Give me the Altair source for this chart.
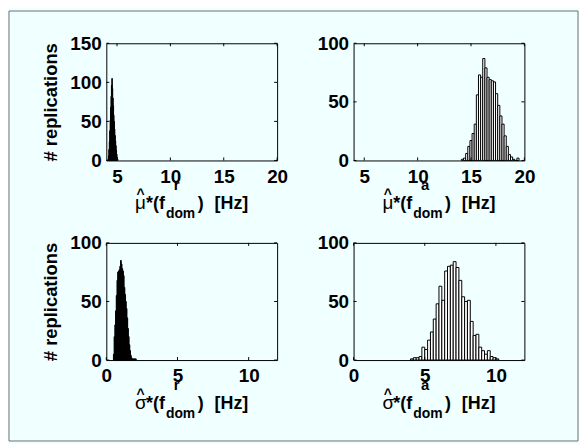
import altair as alt
import pandas as pd

# ---------------- data ----------------
# top-left: mu*(f^r_dom)
mu_r_centers = [4.18, 4.22, 4.26, 4.30, 4.34, 4.38, 4.42, 4.46, 4.50, 4.54, 4.58, 4.62,
                4.66, 4.70, 4.74, 4.78, 4.82, 4.86, 4.90, 4.94, 4.98, 5.02, 5.06]
mu_r_counts = [2, 6, 14, 24, 38, 52, 68, 82, 96, 105, 92, 80,
               70, 58, 50, 40, 32, 25, 19, 13, 8, 4, 2]
mu_r_binw = 0.04

# top-right: mu*(f^a_dom)
mu_a_centers = [14.2, 14.4, 14.6, 14.8, 15.0, 15.2, 15.4, 15.6, 15.8, 16.0, 16.2, 16.4, 16.6, 16.8,
                17.0, 17.2, 17.4, 17.6, 17.8, 18.0, 18.2, 18.4, 18.6, 18.8, 19.0, 19.2, 19.4]
mu_a_counts = [1, 2, 6, 12, 17, 23, 31, 56, 73, 71, 87, 79, 71, 69,
               68, 67, 57, 47, 38, 31, 21, 12, 5, 3, 1, 0, 2]
mu_a_binw = 0.2

# bottom-left: sigma*(f^r_dom)
sig_r_centers = [0.525, 0.575, 0.625, 0.675, 0.725, 0.775, 0.825, 0.875, 0.925, 0.975, 1.025,
                 1.075, 1.125, 1.175, 1.225, 1.275, 1.325, 1.375, 1.425, 1.475, 1.525, 1.575,
                 1.625, 1.675, 1.725, 1.775, 1.825, 1.875, 1.925, 1.975, 2.025, 2.075]
sig_r_counts = [5, 20, 30, 42, 55, 68, 75, 76, 77, 80, 85,
                82, 78, 76, 72, 62, 56, 50, 44, 36, 27, 20,
                13, 8, 4, 2, 1, 1, 1, 1, 1, 1]
sig_r_binw = 0.05

# bottom-right: sigma*(f^a_dom)
sig_a_centers = [4.1, 4.3, 4.5, 4.7, 4.9, 5.1, 5.3, 5.5, 5.7, 5.9, 6.1, 6.3, 6.5, 6.7, 6.9, 7.1,
                 7.3, 7.5, 7.7, 7.9, 8.1, 8.3, 8.5, 8.7, 8.9, 9.1, 9.3, 9.5, 9.7, 9.9, 10.1]
sig_a_counts = [1, 2, 2, 3, 11, 9, 17, 24, 35, 48, 63, 51, 76, 80, 81, 84,
                79, 68, 54, 50, 51, 33, 21, 22, 11, 8, 5, 8, 3, 2, 1]
sig_a_binw = 0.2

x_ticks_top = [5, 10, 15, 20]
x_ticks_bottom = [0, 5, 10]
y_ticks_150 = [0, 50, 100, 150]
y_ticks_100 = [0, 50, 100]
y_title = "# replications"

# ---------------- styling ----------------
FONT = "Liberation Sans"
W, H = 172, 118
TICK = 3
one = pd.DataFrame({"k": [0]})


def make_axis(values, pad, title=""):
    kw = dict(values=values, ticks=False, tickSize=0, domain=False, grid=False,
              labelFont=FONT, labelFontWeight="bold", labelFontSize=19,
              labelColor="black", labelPadding=pad, labelFlush=False,
              labelOverlap=False, labelBound=False)
    if title:
        kw.update(title=title, titleFont=FONT, titleFontWeight="bold",
                  titleFontSize=18.5, titleColor="black", titlePadding=9)
    else:
        kw.update(title=None)
    return alt.Axis(**kw)


def txt(s, x, y, size, weight="bold", align="left"):
    return alt.Chart(one).mark_text(
        text=s, font=FONT, fontSize=size, fontWeight=weight, align=align,
        baseline="alphabetic", color="black"
    ).encode(x=alt.value(x), y=alt.value(y))


def panel(centers, counts, binw, xdom, xticks, ydom, yticks, fill, greek, sup,
          ytitle="", frame=False):
    df = pd.DataFrame({"c": centers, "y": counts})
    df["x"] = df["c"] - binw / 2
    df["x2"] = df["c"] + binw / 2
    xs = alt.Scale(domain=xdom, nice=False, zero=False)
    ys = alt.Scale(domain=ydom, nice=False, zero=False)
    xa = make_axis(xticks, 7)
    ya = make_axis(yticks, 5, ytitle)

    layers = []
    if frame:
        layers.append(
            alt.Chart(one).mark_rect(fillOpacity=0, stroke="#6e6e6e", strokeWidth=1)
            .encode(x=alt.value(-98), x2=alt.value(475), y=alt.value(-32.5), y2=alt.value(400.5))
        )
    bars = alt.Chart(df).mark_bar(fill=fill, stroke="black", strokeWidth=1).encode(
        x=alt.X("x:Q", scale=xs, axis=xa), x2="x2:Q",
        y=alt.Y("y:Q", scale=ys, axis=ya), y2=alt.datum(0),
    )
    layers.append(bars)

    xt = pd.DataFrame({"x": xticks})
    yt = pd.DataFrame({"y": yticks})
    rule = dict(color="black", strokeWidth=1)
    layers += [
        alt.Chart(xt).mark_rule(**rule).encode(x=alt.X("x:Q", scale=xs, axis=xa),
                                               y=alt.value(H), y2=alt.value(H - TICK)),
        alt.Chart(xt).mark_rule(**rule).encode(x=alt.X("x:Q", scale=xs, axis=xa),
                                               y=alt.value(0), y2=alt.value(TICK)),
        alt.Chart(yt).mark_rule(**rule).encode(y=alt.Y("y:Q", scale=ys, axis=ya),
                                               x=alt.value(0), x2=alt.value(TICK)),
        alt.Chart(yt).mark_rule(**rule).encode(y=alt.Y("y:Q", scale=ys, axis=ya),
                                               x=alt.value(W), x2=alt.value(W - TICK)),
    ]
    # x-axis title built from pieces: hat(greek)*(f^sup_dom)  [Hz]
    layers += [
        txt(greek, 29, H + 49, 19, weight="normal"),
        txt("^", 34.5, H + 39, 14, align="center"),
        txt("*(f", 40, H + 49, 18),
        txt(sup, 68, H + 30, 15),
        txt("dom", 60, H + 58, 14),
        txt(")", 92, H + 49, 18),
        txt("[Hz]", 109, H + 49, 18),
    ]
    return alt.layer(*layers).properties(width=W, height=H)


p1 = panel(mu_r_centers, mu_r_counts, mu_r_binw, [4, 20], x_ticks_top, [0, 150], y_ticks_150,
           "black", "μ", "r", ytitle=y_title, frame=True)
p2 = panel(mu_a_centers, mu_a_counts, mu_a_binw, [4, 20], x_ticks_top, [0, 100], y_ticks_100,
           "white", "μ", "a")
p3 = panel(sig_r_centers, sig_r_counts, sig_r_binw, [0, 12], x_ticks_bottom, [0, 100], y_ticks_100,
           "black", "σ", "r", ytitle=y_title)
p4 = panel(sig_a_centers, sig_a_counts, sig_a_binw, [0, 12], x_ticks_bottom, [0, 100], y_ticks_100,
           "white", "σ", "a")

chart = alt.concat(
    p1, p2, p3, p4, columns=2, bounds="flush", spacing={"row": 83, "column": 77}
).properties(
    background="#f0ffff", padding=0
).configure_view(
    stroke="black", strokeWidth=1
)

chart.save("out.html", embed_options={"renderer": "svg", "actions": False})
